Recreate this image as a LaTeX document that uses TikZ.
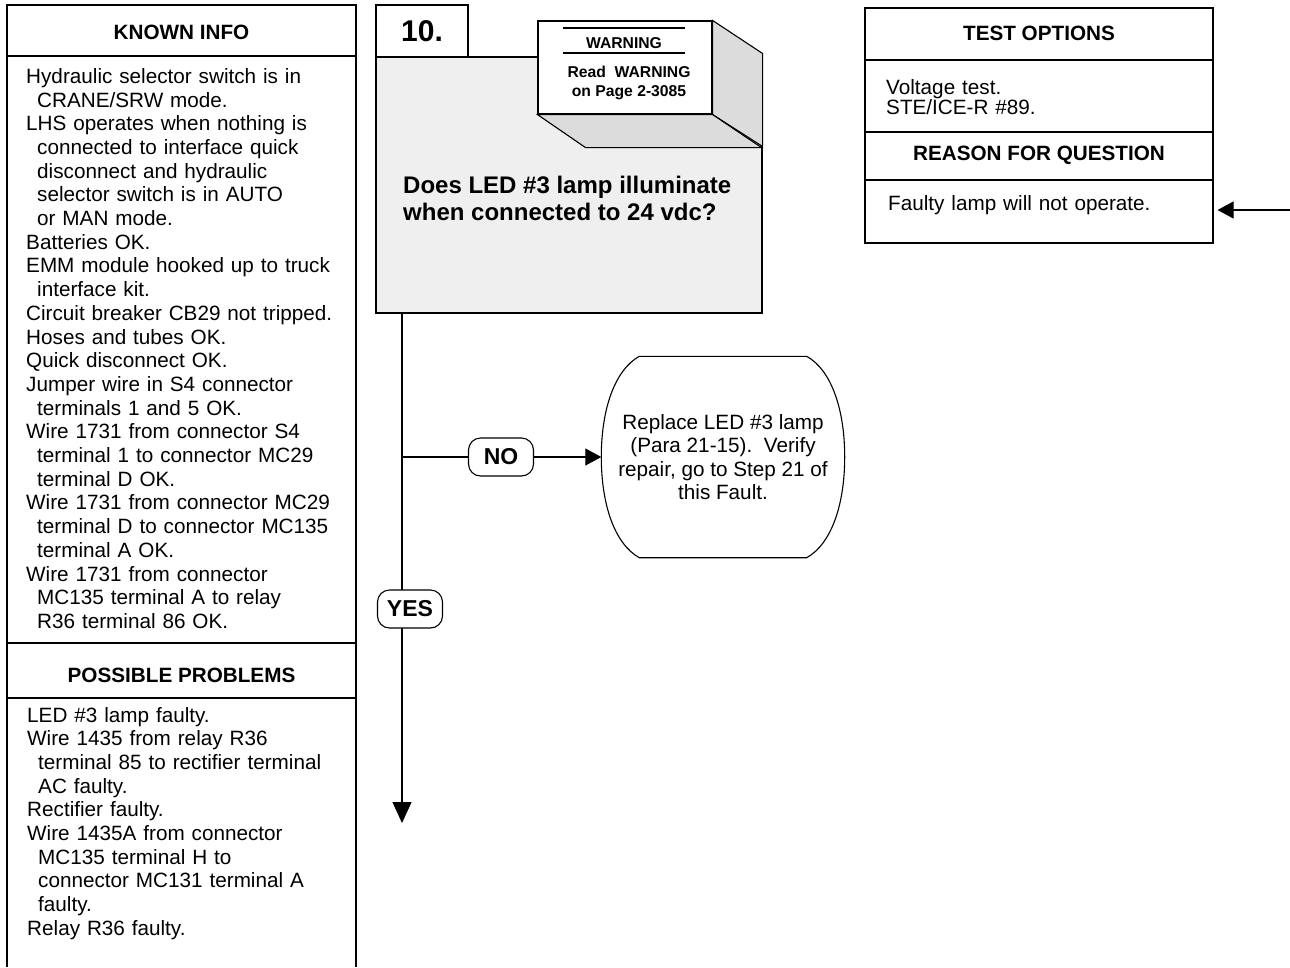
\documentclass[tikz,border=0pt]{standalone}
\usepackage{fontspec}
\setmainfont{Liberation Sans}
\usetikzlibrary{arrows.meta}
\definecolor{stepgray}{HTML}{EFEFEF}
\definecolor{facegray}{HTML}{DCDCDC}
\newcommand\cont{\hspace*{11pt}}

\begin{document}
\begin{tikzpicture}[x=1pt,y=-1pt,
    frame/.style={draw=black,line width=1.1pt},
    head/.style={font=\bfseries\fontsize{20.7}{23.6}\selectfont,anchor=base,inner sep=0pt},
    body/.style={font=\fontsize{20.7}{23.7}\selectfont,anchor=base west,inner sep=0pt,text width=330pt,align=left},
    answer/.style={frame,fill=white,rounded corners=12pt,minimum width=65pt,minimum height=38pt,inner sep=0pt,font=\bfseries\fontsize{23}{26}\selectfont},
    flow/.style={line width=1.1pt,-{Triangle[length=16pt,width=17pt]}}]
    \useasboundingbox (0,0) rectangle (1290,967);

    % known info / possible problems column
    \draw[frame] (7,967) |- (356,5) -- (356,967);
    \foreach \y in {56,643,698}
    {
    \draw[frame] (7,\y) -- (356,\y);
    }
    \node[head] (knownhead) at (181.5,39) {KNOWN INFO};
    \node[body] (known) at (26,83.3) {Hydraulic selector switch is in\\
        \cont CRANE/SRW mode.\\
        LHS operates when nothing is\\
        \cont connected to interface quick\\
        \cont disconnect and hydraulic\\
        \cont selector switch is in AUTO\\
        \cont or MAN mode.\\
        Batteries OK.\\
        EMM module hooked up to truck\\
        \cont interface kit.\\
        Circuit breaker CB29 not tripped.\\
        Hoses and tubes OK.\\
        Quick disconnect OK.\\
        Jumper wire in S4 connector\\
        \cont terminals 1 and 5 OK.\\
        Wire 1731 from connector S4\\
        \cont terminal 1 to connector MC29\\
        \cont terminal D OK.\\
        Wire 1731 from connector MC29\\
        \cont terminal D to connector MC135\\
        \cont terminal A OK.\\
        Wire 1731 from connector\\
        \cont MC135 terminal A to relay\\
        \cont R36 terminal 86 OK.};
    \node[head] (probhead) at (181.5,682) {POSSIBLE PROBLEMS};
    \node[body] (problems) at (27,722) {LED \#3 lamp faulty.\\
        Wire 1435 from relay R36\\
        \cont terminal 85 to rectifier terminal\\
        \cont AC faulty.\\
        Rectifier faulty.\\
        Wire 1435A from connector\\
        \cont MC135 terminal H to\\
        \cont connector MC131 terminal A\\
        \cont faulty.\\
        Relay R36 faulty.};

    % step 10
    \node[frame,fill=stepgray,minimum width=386pt,minimum height=256pt] (step) at (569,185) {};
    \node[frame,fill=white,minimum width=92pt,minimum height=52pt,font=\bfseries\fontsize{30}{34}\selectfont] (num) at (422,31) {10.};
    \node[font=\bfseries\fontsize{24}{27.6}\selectfont,anchor=base west,inner sep=0pt,align=left] (question) at (403,220.6) {Does LED \#3 lamp illuminate\\when connected to 24 vdc?};

    % warning block
    \node[frame,fill=white,minimum width=174pt,minimum height=93pt] (warn) at (625,67.5) {};
    \draw[frame,fill=facegray] (warn.north east) -- ++(50,33) -- ++(0,93) -- (warn.south east) -- cycle;
    \draw[frame,fill=facegray] (warn.south west) -- ++(48,33) -- ++(176,0) -- (warn.south east) -- cycle;
    \draw[line width=1.8pt] (563,28) -- (685,28);
    \draw[line width=1.8pt] (563,53) -- (685,53);
    \node[font=\bfseries\fontsize{15.7}{19.4}\selectfont,anchor=base,inner sep=0pt] (warnhead) at (624,48.5) {WARNING};
    \node[font=\bfseries\fontsize{15.7}{19.4}\selectfont,anchor=base,inner sep=0pt,align=center] (warntext) at (629,96.7) {Read\ \ WARNING\\on Page 2-3085};

    % yes / no branches
    \coordinate (trunk top) at (402,313);
    \coordinate (trunk end) at (402,823);
    \draw[line width=1.1pt,-{Triangle[length=21pt,width=19pt]}] (trunk top) -- (trunk end);
    \node[answer] (yes) at (410,609) {YES};
    \node[answer] (no) at (501,457) {NO};
    \node[minimum width=243pt,minimum height=201pt,inner sep=0pt,align=center,font=\fontsize{20.7}{23.5}\selectfont] (fix) at (723,457)
        {Replace LED \#3 lamp\\(Para 21-15).\ \ Verify\\repair, go to Step 21 of\\this Fault.};
    \draw[frame] ([xshift=38pt]fix.north west) -- ([xshift=-38pt]fix.north east)
        .. controls +(25,14) and +(0,-47) .. (fix.east)
        .. controls +(0,47) and +(25,-14) .. ([xshift=-38pt]fix.south east)
        -- ([xshift=38pt]fix.south west)
        .. controls +(-25,-14) and +(0,47) .. (fix.west)
        .. controls +(0,-47) and +(-25,14) .. ([xshift=38pt]fix.north west) -- cycle;
    \draw[line width=1.1pt] (no -| trunk top) -- (no.west);
    \draw[flow] (no.east) -- (fix.west);

    % test options / reason for question
    \node[frame,minimum width=348pt,minimum height=235pt] (options) at (1039,125.5) {};
    \draw[frame] (865,60) -- (1213,60);
    \draw[frame] (865,132) -- (1213,132);
    \draw[frame] (865,180) -- (1213,180);
    \node[head] (opthead) at (1039,40) {TEST OPTIONS};
    \node[body,font=\fontsize{20.7}{18.5}\selectfont,text width=300pt] (optbody) at (886,94) {Voltage test.\\STE/ICE-R \#89.};
    \node[head] (reasonhead) at (1039,160) {REASON FOR QUESTION};
    \node[body,text width=300pt] (reason) at (888,210) {Faulty lamp will not operate.};
    \coordinate (feed) at (1290,210);
    \draw[flow,shorten >=4pt] (feed) -- (feed -| options.east);
\end{tikzpicture}
\end{document}
